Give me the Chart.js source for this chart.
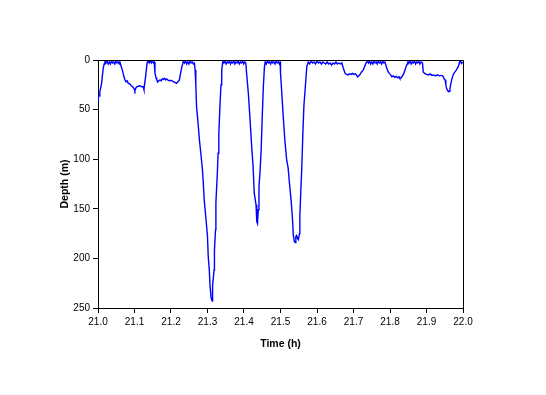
<!DOCTYPE html>
<html>
<head>
<meta charset="utf-8">
<script src="https://cdn.jsdelivr.net/npm/chart.js@4/dist/chart.umd.min.js"></script>
<style>
  html, body { margin: 0; padding: 0; background: #fff; }
  #wrap { width: 546px; height: 395px; }
</style>
</head>
<body>
<div id="wrap"><canvas id="diveChart"></canvas></div>
<script>
// Dive profile: time (h) vs depth (m)
const timeH = [
  21.000, 21.001, 21.003, 21.005, 21.008, 21.010, 21.012, 21.0145, 21.017, 21.019,
  21.022, 21.025, 21.028, 21.031, 21.034, 21.037, 21.040, 21.043, 21.046, 21.049, 21.052, 21.055, 21.058, 21.060,
  21.064, 21.068, 21.071, 21.074, 21.077, 21.080, 21.083, 21.087, 21.091, 21.095, 21.099, 21.101, 21.104, 21.106,
  21.110, 21.115, 21.120, 21.124, 21.126, 21.127, 21.130, 21.133, 21.135,
  21.137, 21.140, 21.143, 21.146, 21.149, 21.152, 21.154,
  21.156, 21.159, 21.161, 21.164, 21.167, 21.170, 21.173, 21.176, 21.179, 21.182, 21.185, 21.188, 21.191, 21.195,
  21.199, 21.203, 21.207, 21.211, 21.215, 21.219, 21.223, 21.226, 21.229, 21.232, 21.234,
  21.237, 21.240, 21.243, 21.246, 21.249, 21.252, 21.255, 21.258, 21.261, 21.264,
  21.266, 21.268, 21.270, 21.274, 21.278, 21.282, 21.286, 21.288, 21.291, 21.296, 21.300, 21.302, 21.305, 21.307,
  21.310, 21.313, 21.314, 21.318, 21.319, 21.322, 21.323, 21.327, 21.329, 21.331, 21.334, 21.337, 21.339, 21.342,
  21.345, 21.348, 21.351, 21.354, 21.357, 21.360, 21.363, 21.366, 21.369, 21.372, 21.375, 21.378, 21.381, 21.384,
  21.387, 21.390, 21.393, 21.396, 21.399, 21.402, 21.405,
  21.407, 21.412, 21.416, 21.421, 21.425, 21.428, 21.433, 21.435, 21.437, 21.439, 21.441, 21.444, 21.447, 21.450,
  21.453, 21.456, 21.458,
  21.461, 21.464, 21.467, 21.470, 21.473, 21.476, 21.479, 21.482, 21.485, 21.488, 21.491, 21.494, 21.497, 21.499,
  21.500, 21.503, 21.508, 21.512, 21.517, 21.521, 21.524, 21.529, 21.533, 21.535, 21.538, 21.540, 21.542, 21.544,
  21.547, 21.549, 21.552, 21.553, 21.556, 21.558, 21.561, 21.564, 21.568, 21.572, 21.576,
  21.580, 21.584, 21.588, 21.592, 21.596, 21.600, 21.604, 21.608, 21.612, 21.616, 21.620, 21.624, 21.628, 21.632,
  21.636, 21.640, 21.644, 21.648, 21.652, 21.656, 21.660, 21.664, 21.668,
  21.672, 21.677, 21.681, 21.685, 21.689, 21.693, 21.697, 21.701, 21.705, 21.708, 21.711, 21.714, 21.718, 21.722,
  21.727, 21.731, 21.734, 21.738,
  21.741, 21.744, 21.747, 21.750, 21.753, 21.756, 21.759, 21.762, 21.765, 21.768, 21.771, 21.774, 21.777, 21.780,
  21.783, 21.786,
  21.791, 21.795, 21.798, 21.802, 21.805, 21.809, 21.813, 21.817, 21.821, 21.825, 21.827, 21.831, 21.834, 21.838,
  21.841, 21.844, 21.847, 21.849,
  21.852, 21.855, 21.858, 21.861, 21.864, 21.867, 21.870, 21.873, 21.876, 21.879, 21.882, 21.885, 21.889,
  21.891, 21.895, 21.900, 21.905, 21.910, 21.915, 21.920, 21.925, 21.930, 21.935, 21.940, 21.944, 21.946, 21.948,
  21.951, 21.953, 21.955, 21.958, 21.960, 21.962, 21.964, 21.966, 21.969, 21.972, 21.975, 21.978, 21.982, 21.985,
  21.987, 21.990, 21.992, 21.994, 21.996, 21.998, 22.000
];

const depthM = [
  42, 38, 36, 32, 27, 23, 16, 8, 4, 1,
  3, 1, 4, 2, 4, 1, 3, 2, 4, 1, 3, 2, 4, 2,
  7, 12, 17, 20, 22, 21, 23.5, 24, 26, 27, 29, 31, 28, 27,
  26.5, 26, 27, 27, 30, 26, 18, 8, 2,
  1, 3, 0.5, 3, 1, 3, 2,
  13, 18, 20, 22, 21, 20, 21, 19, 19.5, 18.5, 20, 19, 20, 21,
  20.5, 21, 22, 22.5, 23.5, 22, 20, 14, 8, 4, 1,
  3, 1, 4, 2, 4, 1, 3, 2, 4, 3,
  10, 25, 47, 63, 81, 95, 110, 121, 141, 161, 178, 198, 212, 228,
  240, 243, 227, 212, 192, 171, 144, 114, 94, 75, 47, 25, 10, 1,
  3, 1, 4, 2, 3, 1, 4, 2, 3, 1, 4, 2, 3, 1,
  4, 2, 3, 1, 4, 2, 3,
  13, 34, 57, 87, 108, 134, 146, 163, 165, 151, 128, 112, 91, 57,
  27, 7, 2,
  4, 1, 3, 2, 4, 1, 3, 2, 4, 1, 3, 2, 4, 2,
  13, 30, 60, 81, 101, 109, 122, 141, 161, 176, 183, 184, 178, 177,
  180, 181, 175, 158, 128, 112, 77, 47, 27, 7, 2,
  4, 1, 3, 2, 4, 1, 3, 2, 4, 2, 3, 4, 2, 4,
  3, 5, 3, 4, 2, 4, 3, 4, 3,
  8, 13.5, 14.5, 15, 14, 14.5, 13.5, 14.5, 14, 15, 17, 16, 14.5, 12,
  10, 6, 3.4, 1,
  3, 1, 4, 2, 4, 1, 3, 2, 4, 1, 3, 2, 4, 1,
  3, 2,
  8, 12, 13.5, 15, 17, 16, 17.5, 16.5, 18, 17, 18.5, 18, 16, 13.5,
  10, 6.7, 4, 1.5,
  3, 1, 4, 2, 3, 1, 4, 2, 3, 1, 4, 2, 3,
  12, 13.5, 14.5, 15, 14, 15.5, 15, 16, 15, 16, 15.5, 16, 17, 19,
  20, 25, 28.5, 31, 32, 31.5, 30, 25, 20, 16, 13.4, 12, 10, 8,
  6.7, 3, 1, 2, 3.4, 2.5, 3
];

const xTicks = { min: 21.0, max: 22.0, step: 0.1 };
const yTicks = { min: 0, max: 250, step: 50 };

const points = timeH.map((t, i) => ({ x: t, y: depthM[i] }));

// draws the top and right edges of the plot box
const frameBox = {
  id: 'frameBox',
  afterDatasetsDraw(chart) {
    const { ctx, chartArea: a } = chart;
    ctx.save();
    ctx.strokeStyle = '#000';
    ctx.lineWidth = 1;
    ctx.beginPath();
    ctx.moveTo(a.left, a.top + 0.5);
    ctx.lineTo(a.right + 0.5, a.top + 0.5);
    ctx.lineTo(a.right + 0.5, a.bottom);
    ctx.stroke();
    ctx.restore();
  }
};

const tickFont = { family: 'Liberation Sans, Arial, sans-serif', size: 10 };
const titleFont = { family: 'Liberation Sans, Arial, sans-serif', size: 10.5, weight: 'bold' };

new Chart(document.getElementById('diveChart'), {
  type: 'line',
  data: {
    datasets: [{
      data: points,
      borderColor: '#0000FF',
      borderWidth: 1.4,
      pointRadius: 0,
      tension: 0,
      fill: false
    }]
  },
  options: {
    responsive: true, maintainAspectRatio: false,
    animation: false,
    layout: { padding: { left: 59, right: 83, top: 60, bottom: 45 } },
    plugins: { legend: { display: false }, tooltip: { enabled: false } },
    scales: {
      x: {
        type: 'linear',
        min: xTicks.min, max: xTicks.max,
        afterFit(s) { s.height = 395 - 45 - 308; },
        ticks: {
          stepSize: xTicks.step, color: '#000', font: tickFont, padding: 3, maxRotation: 0,
          callback: v => v.toFixed(1)
        },
        grid: { drawOnChartArea: false, drawTicks: true, tickLength: 5, color: '#000' },
        border: { display: true, color: '#000', width: 1 },
        title: { display: true, text: 'Time (h)', color: '#000', font: titleFont, padding: 0 }
      },
      y: {
        reverse: true,
        min: yTicks.min, max: yTicks.max,
        afterFit(s) { s.width = 98 - 59; },
        ticks: { stepSize: yTicks.step, color: '#000', font: tickFont, padding: 3 },
        grid: { drawOnChartArea: false, drawTicks: true, tickLength: 5, color: '#000' },
        border: { display: true, color: '#000', width: 1 },
        title: { display: true, text: 'Depth (m)', color: '#000', font: titleFont, padding: 0 }
      }
    }
  },
  plugins: [frameBox]
});
</script>
</body>
</html>
